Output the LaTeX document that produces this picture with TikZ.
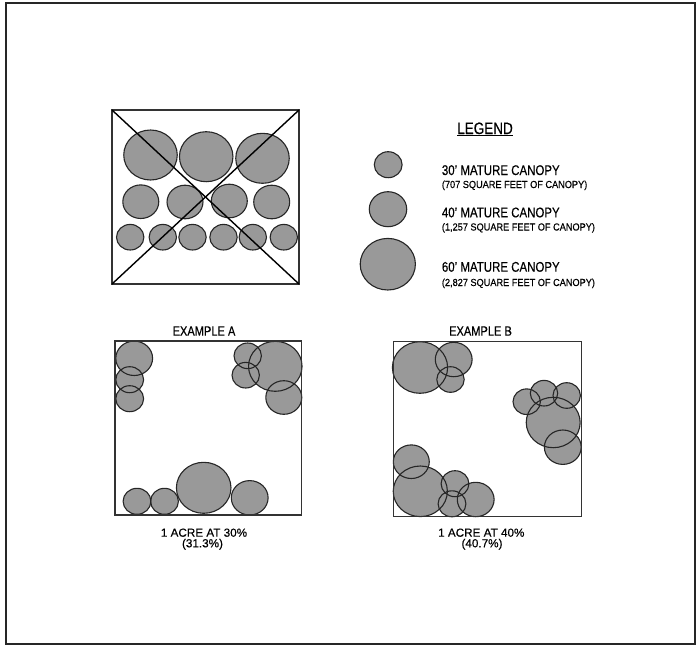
\documentclass[tikz,border=0pt]{standalone}
\usepackage{fontspec}
\setmainfont[FakeStretch=0.82, FakeBold=0.4]{Liberation Sans}
\newfontfamily\noteface[FakeStretch=0.9, FakeBold=0.4]{Liberation Sans}
\newfontfamily\acreface[FakeBold=0.4]{Liberation Sans}

\begin{document}
\begin{tikzpicture}[x=1pt, y=-1pt,
    frameline/.style ={line width=2pt, draw=black!85},
    boxline/.style   ={line width=1.3pt, draw=black!80},
    crossline/.style ={line width=1.4pt, draw=black},
    crownfill/.style ={fill=black!40},
    crownedge/.style ={line width=1.1pt, draw=black!85},
    bigtext/.style   ={inner sep=0pt, font=\fontsize{14}{15}\selectfont},
    smalltext/.style ={inner sep=0pt, font=\noteface\fontsize{10.2}{11}\selectfont},
    caption/.style   ={inner sep=0pt, font=\fontsize{13.5}{14}\selectfont},
    acretext/.style  ={inner sep=0pt, font=\acreface\fontsize{11.7}{12}\selectfont}
]

% ---------- canopy list: x / y / vertical radius ----------
\def\xs{1.07}   % drawing is a little stretched sideways
\def\allTrees{%
  150.5/155/25, 206.2/156.7/25, 262.5/158.3/25,% planting grid
  140.8/201.7/16.8, 185/202/16.8, 229.3/201/16.8, 271.7/202/16.8,
  130.2/237.2/12.8, 162.8/237.2/12.8, 192.5/237.2/12.8,
  223.5/237.2/12.8, 252.8/237.2/12.8, 283.8/237.2/12.8,
  388.2/164.7/13, 388/209.2/17.5, 387.8/264.2/25.8,% legend
  134.2/358.3/17.2, 129.7/379.7/13, 129.7/398.7/13,% example A
  247.7/355.8/12.8, 245.7/375.2/12.8, 275.3/366.3/25, 283.8/397.5/16.8,
  137/501.3/13, 164.5/501.3/13, 203.7/487.8/25.5, 249.7/497.8/17.2,
  420/367.5/25.8, 453.7/359.5/17.2, 450.5/379.5/12.8,% example B
  526.7/401.7/12.8, 544/393.2/12.8, 566.7/395.5/12.8,
  553.2/422.5/25.2, 562.8/447.2/17.2,
  411.3/461.7/16.8, 420.3/491.3/25.3, 455/483.7/13, 452/503.8/13,
  475.7/499.5/17.2}

\useasboundingbox (0,0) rectangle (698,646);

% ---------- sheet border ----------
\draw[frameline] (6,2.5) rectangle (695,644);

% ---------- crowns: fills first, then outlines ----------
\foreach \cx/\cy/\r in \allTrees
  \fill[crownfill] (\cx,\cy) ellipse [x radius={\xs*\r}, y radius=\r];
\foreach \cx/\cy/\r in \allTrees
  \draw[crownedge] (\cx,\cy) ellipse [x radius={\xs*\r}, y radius=\r];

% ---------- crossed-out planting grid ----------
\coordinate (gridNW) at (112,110);
\coordinate (gridNE) at (299,110);
\coordinate (gridSW) at (112,284);
\coordinate (gridSE) at (299,284);
\draw[boxline] (gridNW) rectangle (gridSE);
\draw[crossline] (gridNW) -- (gridSE);
\draw[crossline] (gridNE) -- (gridSW);

% ---------- legend ----------
\node[inner sep=0pt, anchor=base, font=\fontsize{16.5}{17}\selectfont]
  (legendTitle) at (485,134) {\underline{LEGEND}};
\node[bigtext, anchor=base west] (small30) at (441.7,175) {30' MATURE CANOPY};
\node[smalltext, anchor=base west] (small30a) at (441.7,188) {(707 SQUARE FEET OF CANOPY)};
\node[bigtext, anchor=base west] (mid40) at (441.7,217.3) {40' MATURE CANOPY};
\node[smalltext, anchor=base west] (mid40a) at (441.7,230.5) {(1,257 SQUARE FEET OF CANOPY)};
\node[bigtext, anchor=base west] (big60) at (441.7,271.7) {60' MATURE CANOPY};
\node[smalltext, anchor=base west] (big60a) at (441.7,286) {(2,827 SQUARE FEET OF CANOPY)};

% ---------- example A ----------
\draw[boxline] (115,341) rectangle (301.7,515);
\node[caption, anchor=base] (titleA) at (204,335.7) {EXAMPLE A};
\node[acretext, anchor=base] (acreA) at (204,536.7) {1 ACRE AT 30\%};
\node[acretext, anchor=base] (pctA) at (202.5,547.3) {(31.3\%)};

% ---------- example B ----------
\draw[boxline] (393.3,341.7) rectangle (581.7,516.7);
\node[caption, anchor=base] (titleB) at (480.5,335.7) {EXAMPLE B};
\node[acretext, anchor=base] (acreB) at (481.3,536.7) {1 ACRE AT 40\%};
\node[acretext, anchor=base] (pctB) at (482,547.3) {(40.7\%)};

\end{tikzpicture}
\end{document}
